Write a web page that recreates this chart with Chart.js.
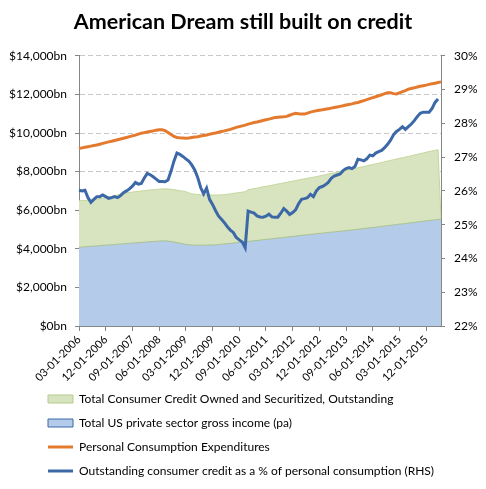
<!DOCTYPE html>
<html><head><meta charset="utf-8">
<script src="https://cdn.jsdelivr.net/npm/chart.js@4.4.1/dist/chart.umd.min.js"></script>
<style>html,body{margin:0;padding:0;background:#fff;}canvas{display:block;}</style>
</head><body>
<canvas id="c" width="486" height="489"></canvas>
<script>
// Monthly categories, March 2006 to May 2016
const firstYear = 2006, firstMonth = 3, monthCount = 123;
const months = [];
for (let i = 0; i < monthCount; i++) {
  const m = (firstMonth - 1 + i) % 12 + 1;
  const y = firstYear + Math.floor((firstMonth - 1 + i) / 12);
  months.push(String(m).padStart(2, '0') + '-01-' + y);
}
const tickEvery = 9;

// Total US private sector gross income (pa), $bn
const income = [4080,4090,4100,4120,4130,4140,4150,4160,4180,4190,4200,4210,4220,4240,4250,4260,4270,4280,4300,4310,4320,4330,4340,4360,4370,4380,4390,4400,
  4410,4410,4400,4380,4350,
  4320,4290,4260,4230,4210,4200,
  4190,4190,4190,4190,4190,4200,4200,4210,
  4220,4240,4250,4270,4280,4300,4320,4330,4350,4370,
  4380,4400,4420,4430,4450,4470,4490,4500,4520,4540,4560,4570,4590,4610,4630,4640,4660,4680,4700,4710,4730,4750,4760,4780,
  4800,4810,4830,4850,4860,4880,4890,4910,4930,4940,4960,4980,4990,5010,
  5030,5050,5070,5090,5100,5120,5140,5160,5180,5200,5220,5240,5260,5280,5290,5310,5330,5350,5370,5390,5410,5430,5450,5470,5480,5500,5520,5540];

// Total Consumer Credit Owned and Securitized, Outstanding, $bn (stacked on income)
const credit = [2410,2405,2400,2400,2400,2410,2420,2430,2445,
  2465,2490,2510,2530,2555,2580,2600,2630,
  2635,2645,2650,2660,2670,2670,2675,2680,2680,2685,2690,
  2690,2695,2700,2705,2710,2715,2720,2725,2730,
  2690,2650,2635,2620,2610,2605,2600,2595,
  2585,2575,2565,2555,2555,2560,2565,2570,2575,2580,2585,2590,
  2675,2690,2700,2710,2725,2740,2750,2760,2775,2785,2800,2810,2825,2835,2850,2860,2875,2885,2900,2910,2925,2935,2950,2960,
  2975,2990,3010,3025,3040,3055,3070,3090,3105,3120,3135,3150,3170,3185,3200,3215,3230,3250,3265,3280,3295,3310,3330,3345,3360,3375,3390,3410,3425,3440,3455,3470,3490,3505,3520,3535,3550,3570,3585,3600,3615,
  0];

// Personal Consumption Expenditures, $bn
const pce = [9190,9230,9260,9290,9320,9350,9380,9420,9460,9500,9540,
  9570,9610,9650,9690,9730,9770,9810,9850,9890,9940,9990,
  10020,10050,10080,10110,10140,10170,10170,
  10120,10030,9920,9820,9770,
  9750,9740,9730,9740,
  9770,9790,9810,9840,9870,9900,9940,
  9970,10000,10040,10080,10110,10150,10190,
  10240,10290,10330,10370,10410,10460,
  10500,10540,10570,10610,10650,10690,10720,10760,10800,
  10820,10830,10840,10860,
  10920,10980,11020,
  11000,10990,10980,
  11030,11080,11120,11150,
  11180,11200,11230,11260,11290,11320,11350,
  11380,11410,11450,11480,11510,11550,11580,
  11630,11680,11730,11780,11830,11880,
  11930,11980,12040,12090,
  12080,12040,12020,
  12080,12140,12200,12270,
  12310,12340,12380,12420,12450,12480,
  12520,12550,12580,12620,12650];

// Outstanding consumer credit as a % of personal consumption (RHS)
const ratio = [26.02,26.00,26.02,25.80,25.66,25.75,25.83,25.83,25.88,25.83,
  25.78,25.80,25.83,25.80,25.86,25.95,26.00,26.06,26.14,26.25,
  26.20,26.22,26.38,26.52,26.48,26.42,26.35,26.28,26.28,26.27,
  26.32,26.58,26.88,27.12,27.08,27.02,26.95,26.88,26.77,26.62,
  26.40,26.10,25.91,26.08,25.75,25.60,25.42,25.26,25.16,25.06,
  24.94,24.84,24.77,24.62,24.55,24.49,24.32,25.40,25.37,25.34,
  25.26,25.23,25.22,25.25,25.31,25.23,25.22,25.22,25.34,25.48,
  25.40,25.30,25.36,25.44,25.62,25.75,25.77,25.80,25.90,25.83,
  26.00,26.10,26.13,26.18,26.25,26.37,26.44,26.47,26.50,26.60,
  26.66,26.69,26.66,26.72,26.94,26.92,26.89,26.95,27.06,27.04,
  27.12,27.16,27.20,27.28,27.38,27.50,27.66,27.76,27.82,27.90,
  27.82,27.90,27.98,28.08,28.20,28.30,28.33,28.33,28.33,28.44,
  28.62,28.72,null];

const leftTicks = {min: 0, max: 14000, step: 2000};
const rightTicks = {min: 22, max: 30, step: 1};

const FONT = 'Lato, "Open Sans", "Liberation Sans", sans-serif';
const AXIS = '#868686';

const legendShift = {
  id: 'legendShift',
  afterLayout(chart) { if (chart.legend) chart.legend.left = 36; }
};

new Chart(document.getElementById('c'), {
  type: 'line',
  data: {
    labels: months,
    datasets: [
      {label: 'Total US private sector gross income (pa)', data: income, yAxisID: 'y', stack: 'areas', order: 3,
        fill: 'origin', backgroundColor: '#b4cce9', borderColor: '#a9c08c', borderWidth: 1, pointRadius: 0, tension: 0},
      {label: 'Total Consumer Credit Owned and Securitized, Outstanding', data: credit, yAxisID: 'y', stack: 'areas', order: 4,
        fill: '-1', backgroundColor: '#d8e4bf', borderColor: '#c3d69b', borderWidth: 1, pointRadius: 0, tension: 0},
      {label: 'Personal Consumption Expenditures', data: pce, yAxisID: 'y', stack: 'pce', order: 2,
        fill: false, borderColor: '#e47a2e', borderWidth: 3, pointRadius: 0, tension: 0},
      {label: 'Outstanding consumer credit as a % of personal consumption (RHS)', data: ratio, yAxisID: 'y2', order: 1,
        fill: false, borderColor: '#3c68a8', borderWidth: 3, pointRadius: 0, tension: 0}
    ]
  },
  options: {
    responsive: false,
    animation: false,
    devicePixelRatio: 1,
    layout: {padding: {left: 0, right: 0, top: 0, bottom: 2}},
    plugins: {
      tooltip: {enabled: false},
      title: {
        display: true,
        text: 'American Dream still built on credit',
        color: '#000',
        font: {family: FONT, size: 21.5, weight: 'bold', lineHeight: 1.2},
        padding: {top: 9, bottom: 21}
      },
      legend: {
        display: true,
        position: 'bottom',
        align: 'start',
        fullSize: false,
        labels: {
          color: '#000',
          font: {family: FONT, size: 12},
          padding: 12,
          usePointStyle: true,
          pointStyleWidth: 25,
          boxHeight: 8,
          generateLabels(chart) {
            const ds = chart.data.datasets;
            const idx = [1, 0, 2, 3];
            return idx.map(i => {
              const d = ds[i];
              const isArea = d.fill !== false;
              return {
                text: d.label,
                datasetIndex: i,
                fillStyle: isArea ? d.backgroundColor : d.borderColor,
                strokeStyle: isArea ? (i === 0 ? '#3c68a8' : '#b5cc8e') : d.borderColor,
                lineWidth: isArea ? 1 : 3,
                pointStyle: isArea ? 'rect' : 'line',
                hidden: false,
                fontColor: '#000'
              };
            });
          }
        }
      }
    },
    scales: {
      x: {
        type: 'category',
        offset: false,
        grid: {display: true, drawOnChartArea: false, drawTicks: true, tickLength: 5, tickColor: AXIS, color: AXIS},
        border: {display: true, color: AXIS, width: 1},
        ticks: {
          autoSkip: false, minRotation: 45, maxRotation: 45, padding: 2,
          color: '#000', font: {family: FONT, size: 11},
          callback(v, i) { return i % tickEvery === 0 ? months[i] : null; }
        },
        afterFit(s) { s.height = 55; }
      },
      y: {
        position: 'left',
        stacked: true,
        min: leftTicks.min, max: leftTicks.max,
        grid: {display: true, drawOnChartArea: true, drawTicks: true, tickLength: 4, tickColor: AXIS, color: '#c8c8c8', lineWidth: 1},
        border: {display: true, color: AXIS, width: 1, dash: [5, 3]},
        ticks: {
          stepSize: leftTicks.step, padding: 8, color: '#000', font: {family: FONT, size: 12},
          callback(v) { return '$' + Number(v).toLocaleString('en-US') + 'bn'; }
        },
        afterFit(s) { s.width = 79; }
      },
      y2: {
        position: 'right',
        min: rightTicks.min, max: rightTicks.max,
        grid: {display: true, drawOnChartArea: false, drawTicks: true, tickLength: 4, tickColor: AXIS, color: AXIS},
        border: {display: true, color: AXIS, width: 1},
        ticks: {
          stepSize: rightTicks.step, padding: 9, color: '#000', font: {family: FONT, size: 12},
          callback(v) { return v + '%'; }
        },
        afterFit(s) { s.width = 45; }
      }
    }
  },
  plugins: [legendShift]
});
</script>
</body></html>
